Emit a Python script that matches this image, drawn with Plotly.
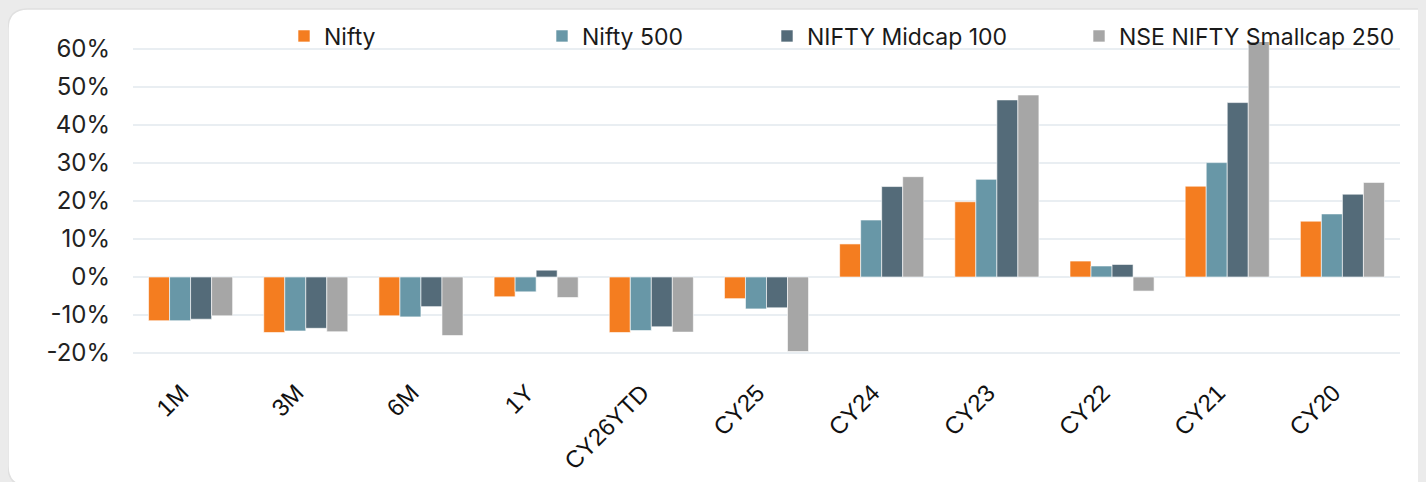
import plotly.graph_objects as go

categories = ["1M", "3M", "6M", "1Y", "CY26YTD", "CY25", "CY24", "CY23", "CY22", "CY21", "CY20"]
nifty = [-11.5, -14.6, -10.2, -5.2, -14.6, -5.7, 8.7, 19.8, 4.2, 23.9, 14.7]
nifty500 = [-11.5, -14.2, -10.5, -3.9, -14.1, -8.4, 15.0, 25.7, 2.9, 30.1, 16.6]
midcap100 = [-11.1, -13.5, -7.8, 1.8, -13.1, -8.1, 23.8, 46.6, 3.3, 45.9, 21.8]
smallcap250 = [-10.2, -14.4, -15.4, -5.4, -14.5, -19.6, 26.4, 47.9, -3.7, 62.9, 24.9]

series_names = ["Nifty", "Nifty 500", "NIFTY Midcap 100", "NSE NIFTY Smallcap 250"]
series_values = [nifty, nifty500, midcap100, smallcap250]
colors = ["#F47D20", "#6897A7", "#546B79", "#A6A6A6"]
legend_x_px = [276, 534, 759, 1071]

W, H = 1426, 482
ML, MR, MT, MB = 125, 34, 34, 133

fig = go.Figure()
for i, (name, vals, col) in enumerate(zip(series_names, series_values, colors)):
    lg = "legend" if i == 0 else f"legend{i+1}"
    fig.add_trace(go.Bar(
        x=categories, y=vals, name=name,
        marker=dict(color=col, line=dict(color="rgba(255,255,255,0.6)", width=1)),
        legend=lg,
        cliponaxis=True,
    ))

legend_common = dict(
    orientation="h", xref="container", yref="container",
    xanchor="left", yanchor="middle", y=1 - 28 / H,
    font=dict(family="Inter", size=23, color="#1a1a1a"),
    bgcolor="rgba(0,0,0,0)", borderwidth=0,
)
layout_legends = {}
for i, px in enumerate(legend_x_px):
    key = "legend" if i == 0 else f"legend{i+1}"
    layout_legends[key] = dict(legend_common, x=px / W)

# card background (rounded white rectangle on gray page)
pw = W - ML - MR
ph = H - MT - MB
def fx(px):
    return (px - ML) / pw
def fy(py):
    return (H - MB - py) / ph
r = 20
x0, x1, y0, y1 = 0, 1440, 1, 478
path = (
    f"M {fx(x0 + r)},{fy(y0)} L {fx(x1)},{fy(y0)} L {fx(x1)},{fy(y1)} "
    f"L {fx(x0 + r)},{fy(y1)} Q {fx(x0)},{fy(y1)} {fx(x0)},{fy(y1 - r)} "
    f"L {fx(x0)},{fy(y0 + r)} Q {fx(x0)},{fy(y0)} {fx(x0 + r)},{fy(y0)} Z"
)

fig.update_layout(
    width=W, height=H,
    margin=dict(l=ML, r=MR, t=MT, b=MB, pad=0, autoexpand=False),
    paper_bgcolor="#EBEBEB",
    plot_bgcolor="rgba(0,0,0,0)",
    barmode="group", bargap=0.27, bargroupgap=0,
    showlegend=True,
    shapes=[dict(type="path", xref="paper", yref="paper", path=path,
                 fillcolor="white", line=dict(color="#E0E0E0", width=1.5), layer="below")],
    **layout_legends,
)
fig.update_xaxes(
    type="category", tickangle=-45, showgrid=False, showline=False, zeroline=False,
    ticks="", tickfont=dict(family="Liberation Sans", size=24, color="#111111"),
    ticklabelstandoff=16, ticklabelshift=-9,
)
fig.update_yaxes(
    range=[-21.05, 61.84], tickvals=[-20, -10, 0, 10, 20, 30, 40, 50, 60],
    ticktext=["-20%", "-10%", "0%", "10%", "20%", "30%", "40%", "50%", "60%"],
    showgrid=True, gridcolor="#E9EEF2", gridwidth=1.5,
    zeroline=True, zerolinecolor="#E9EEF2", zerolinewidth=1.5,
    showline=False, ticks="",
    tickfont=dict(family="Inter", size=24, color="#222222"),
    ticklabelstandoff=22,
)

fig.write_html(
    "out.html",
    post_script="document.body.style.background='#EBEBEB';document.documentElement.style.background='#EBEBEB';",
)
